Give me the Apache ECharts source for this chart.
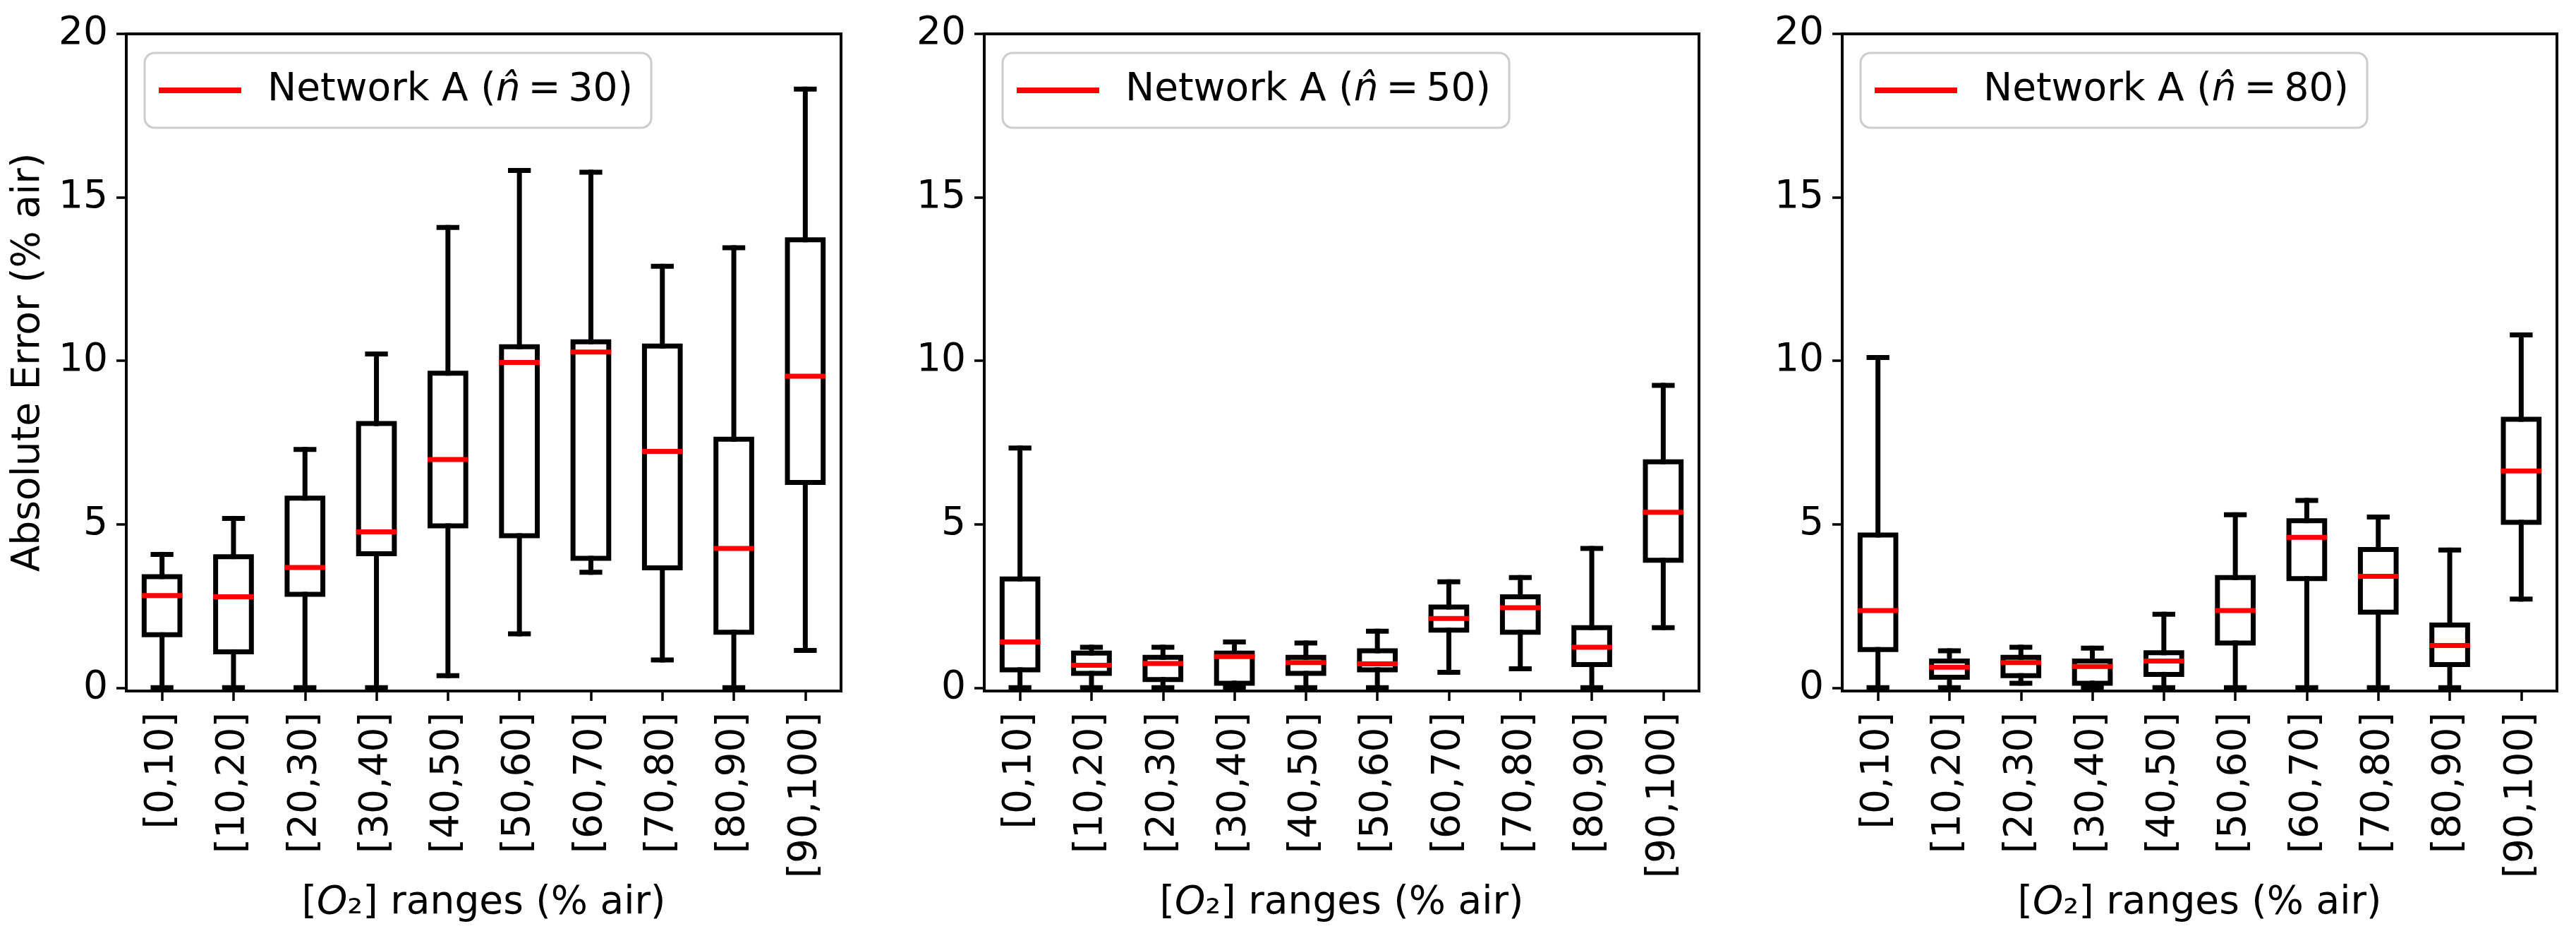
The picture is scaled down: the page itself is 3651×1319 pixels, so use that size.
<!DOCTYPE html>
<html>
<head>
<meta charset="utf-8">
<script src="https://cdn.jsdelivr.net/npm/echarts@6/dist/echarts.min.js"></script>
<style>html,body{margin:0;padding:0;background:#fff}#c{width:3651px;height:1319px}</style>
</head>
<body>
<div id="c"></div>
<script>
// ---- data ----
const categories = ['[0,10]','[10,20]','[20,30]','[30,40]','[40,50]','[50,60]','[60,70]','[70,80]','[80,90]','[90,100]'];
const yTickValues = [0, 5, 10, 15, 20];
const nHatLabels = ['30', '50', '80'];

// n-hat = 30
const lo30  = [0, 0, 0, 0, 0.37, 1.65, 3.53, 0.85, 0, 1.14];
const q1_30 = [1.62, 1.10, 2.86, 4.10, 4.95, 4.65, 3.96, 3.67, 1.70, 6.28];
const med30 = [2.82, 2.78, 3.68, 4.77, 6.98, 9.95, 10.27, 7.23, 4.26, 9.53];
const q3_30 = [3.40, 4.01, 5.80, 8.08, 9.62, 10.43, 10.58, 10.45, 7.60, 13.70];
const hi30  = [4.08, 5.18, 7.29, 10.21, 14.08, 15.82, 15.77, 12.89, 13.46, 18.31];

// n-hat = 50
const lo50  = [0, 0, 0, 0.02, 0, 0, 0.47, 0.58, 0, 1.84];
const q1_50 = [0.55, 0.44, 0.25, 0.14, 0.44, 0.55, 1.76, 1.70, 0.71, 3.90];
const med50 = [1.40, 0.69, 0.74, 0.95, 0.77, 0.73, 2.12, 2.45, 1.24, 5.37];
const q3_50 = [3.33, 1.06, 0.93, 1.06, 0.93, 1.13, 2.47, 2.78, 1.84, 6.91];
const hi50  = [7.33, 1.24, 1.24, 1.40, 1.37, 1.73, 3.24, 3.37, 4.26, 9.25];

// n-hat = 80
const lo80  = [0, 0, 0.14, 0, 0, 0, 0, 0, 0, 2.71];
const q1_80 = [1.17, 0.32, 0.37, 0.14, 0.41, 1.37, 3.34, 2.31, 0.71, 5.06];
const med80 = [2.36, 0.63, 0.77, 0.65, 0.82, 2.36, 4.60, 3.41, 1.29, 6.63];
const q3_80 = [4.67, 0.82, 0.93, 0.82, 1.07, 3.37, 5.11, 4.23, 1.92, 8.21];
const hi80  = [10.10, 1.13, 1.24, 1.21, 2.25, 5.29, 5.73, 5.22, 4.21, 10.79];

const panels = [
  [lo30, q1_30, med30, q3_30, hi30],
  [lo50, q1_50, med50, q3_50, hi50],
  [lo80, q1_80, med80, q3_80, hi80]
];

// ---- layout / style ----
const FONT = 'DejaVu Sans';
const FS = 55;
const panelLeft = [179, 1395, 2611];
const panelWidth = 1013;
const gridTop = 48;
const gridHeight = 931;

const seriesNames = nHatLabels.map(n => 'Network A (n\u0302 = ' + n + ')');

function renderBox(params, api) {
  const i = api.value(0);
  const lo = api.value(1), q1 = api.value(2), md = api.value(3), q3 = api.value(4), hi = api.value(5);
  const step = api.size([1, 0])[0];
  const bw = step * 0.5, cw = step * 0.25;
  const pLo = api.coord([i, lo]), pQ1 = api.coord([i, q1]), pMd = api.coord([i, md]);
  const pQ3 = api.coord([i, q3]), pHi = api.coord([i, hi]);
  const x = pMd[0];
  const blk = {stroke: '#000', lineWidth: 7, lineCap: 'square', fill: null};
  return {
    type: 'group',
    children: [
      {type: 'line', shape: {x1: x, y1: pQ1[1], x2: x, y2: pLo[1]}, style: blk},
      {type: 'line', shape: {x1: x, y1: pQ3[1], x2: x, y2: pHi[1]}, style: blk},
      {type: 'line', shape: {x1: x - cw / 2, y1: pLo[1], x2: x + cw / 2, y2: pLo[1]}, style: blk},
      {type: 'line', shape: {x1: x - cw / 2, y1: pHi[1], x2: x + cw / 2, y2: pHi[1]}, style: blk},
      {type: 'rect', shape: {x: x - bw / 2, y: pQ3[1], width: bw, height: pQ1[1] - pQ3[1]},
        style: {stroke: '#000', lineWidth: 7, fill: null, lineJoin: 'miter'}},
      {type: 'line', shape: {x1: x - bw / 2, y1: pMd[1], x2: x + bw / 2, y2: pMd[1]},
        style: {stroke: '#ff0000', lineWidth: 7, lineCap: 'square'}}
    ]
  };
}

const grids = [], xAxes = [], yAxes = [], series = [], legends = [];
panels.forEach((p, k) => {
  grids.push({left: panelLeft[k], top: gridTop, width: panelWidth, height: gridHeight,
    show: true, borderColor: '#000', borderWidth: 4, backgroundColor: 'transparent'});
  xAxes.push({
    type: 'category', gridIndex: k, data: categories, boundaryGap: true,
    axisLine: {show: true, onZero: false, lineStyle: {color: '#000', width: 4}},
    axisTick: {show: true, alignWithLabel: true, length: 14, lineStyle: {color: '#000', width: 3.5}},
    axisLabel: {rotate: 90, margin: 30, fontSize: FS, fontFamily: FONT, color: '#000', interval: 0},
    splitLine: {show: false},
    name: '[{i|O}\u2082] ranges (% air)',
    nameLocation: 'middle', nameGap: 297,
    nameTextStyle: {fontSize: FS, fontFamily: FONT, color: '#000', verticalAlign: 'middle',
      rich: {i: {fontStyle: 'italic', fontSize: FS, fontFamily: FONT, color: '#000'}}}
  });
  yAxes.push({
    type: 'value', gridIndex: k, min: -0.1, max: 20,
    axisLine: {show: true, lineStyle: {color: '#000', width: 4}},
    axisTick: {show: true, length: 14, customValues: yTickValues, lineStyle: {color: '#000', width: 3.5}},
    axisLabel: {customValues: yTickValues, margin: 26, fontSize: FS, fontFamily: FONT, color: '#000'},
    splitLine: {show: false},
    name: k === 0 ? 'Absolute Error (% air)' : '',
    nameLocation: 'middle', nameGap: 138, nameRotate: 90,
    nameTextStyle: {fontSize: FS, fontFamily: FONT, color: '#000', verticalAlign: 'middle'}
  });
  const data = categories.map((c, j) => [j, p[0][j], p[1][j], p[2][j], p[3][j], p[4][j]]);
  series.push({
    type: 'custom', name: seriesNames[k], xAxisIndex: k, yAxisIndex: k,
    renderItem: renderBox, data: data, clip: false,
    encode: {x: 0, y: [1, 2, 3, 4, 5]},
    itemStyle: {color: '#ff0000'}
  });
  legends.push({
    left: panelLeft[k] + 26, top: 75,
    data: [{name: seriesNames[k], itemStyle: {color: '#ff0000'}}],
    icon: 'rect', itemWidth: 117, itemHeight: 8,
    selectedMode: false,
    borderColor: '#cccccc', borderWidth: 3, borderRadius: 14,
    padding: [21, 26, 21, 20],
    backgroundColor: '#fff',
    formatter: () => '{sp|}Network A ({i|n\u0302}\u2009=\u2009' + nHatLabels[k] + ')',
    textStyle: {fontSize: FS, fontFamily: FONT, color: '#000', lineHeight: 64,
      rich: {
        sp: {width: 32},
        i: {fontStyle: 'italic', fontSize: FS, fontFamily: FONT, color: '#000', lineHeight: 64}
      }}
  });
});

const chart = echarts.init(document.getElementById('c'), null, {renderer: 'canvas'});
chart.setOption({
  animation: false,
  backgroundColor: '#fff',
  textStyle: {fontFamily: FONT},
  grid: grids, xAxis: xAxes, yAxis: yAxes, legend: legends, series: series
});
</script>
</body>
</html>
